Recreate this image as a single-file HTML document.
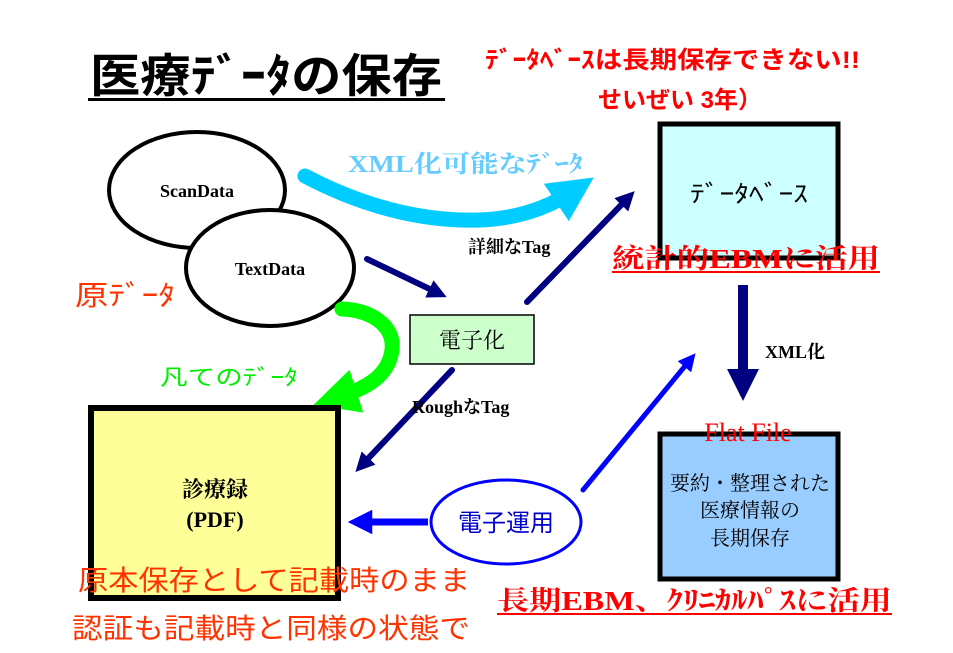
<!DOCTYPE html>
<html><head><meta charset="utf-8"><style>
html,body{margin:0;padding:0;background:#fff;}
svg{display:block;font-family:"Liberation Serif","Noto Serif CJK SC","Noto Sans CJK JP",serif;}
.b{font-weight:bold;}
</style></head><body>
<svg width="953" height="653" viewBox="0 0 953 653" xmlns="http://www.w3.org/2000/svg">
<defs>
<marker id="nv" viewBox="0 0 10 10" refX="5" refY="5" markerWidth="3.2" markerHeight="3.2" orient="auto"><path d="M0,0L10,5L0,10z" fill="#000080"/></marker>
<marker id="bl" viewBox="0 0 10 10" refX="5" refY="5" markerWidth="3.5" markerHeight="3.5" orient="auto"><path d="M0,0L10,5L0,10z" fill="#0000ff"/></marker>
<marker id="cy" viewBox="0 0 10 10" refX="5" refY="5" markerWidth="3" markerHeight="3" orient="auto"><path d="M0,0L10,5L0,10z" fill="#00ccff"/></marker>
<marker id="gr" viewBox="0 0 10 10" refX="5" refY="5" markerWidth="3" markerHeight="3" orient="auto"><path d="M0,0L10,5L0,10z" fill="#00ff00"/></marker>
</defs>
<text x="90" y="92" font-size="46" class="b" font-family="Liberation Sans,Noto Sans CJK JP,sans-serif" textLength="352" lengthAdjust="spacingAndGlyphs">医療ﾃﾞｰﾀの保存</text>
<rect x="88" y="98" width="357" height="3" fill="#000"/>
<text x="485" y="68" font-size="24" class="b" fill="#ff0000" font-family="Liberation Sans,Noto Sans CJK JP,sans-serif" textLength="375" lengthAdjust="spacingAndGlyphs">ﾃﾞｰﾀﾍﾞｰｽは長期保存できない!!</text>
<text x="598" y="108" font-size="24" class="b" fill="#ff0000" font-family="Liberation Sans,Noto Sans CJK JP,sans-serif">せいぜい 3年）</text>
<ellipse cx="197" cy="190" rx="88" ry="58" fill="#fff" stroke="#000" stroke-width="4"/>
<text x="197" y="197" font-size="18" class="b" text-anchor="middle">ScanData</text>
<ellipse cx="270" cy="268" rx="84" ry="58" fill="#fff" stroke="#000" stroke-width="4"/>
<text x="270" y="275" font-size="18" class="b" text-anchor="middle">TextData</text>
<text x="75" y="305" font-size="28" fill="#ff3300" font-family="Liberation Sans,Noto Sans CJK JP,sans-serif" textLength="100" lengthAdjust="spacingAndGlyphs">原ﾃﾞｰﾀ</text>
<text x="160" y="385" font-size="22" fill="#00ee00" font-family="Liberation Sans,Noto Sans CJK JP,sans-serif" textLength="138" lengthAdjust="spacingAndGlyphs">凡てのﾃﾞｰﾀ</text>
<path d="M305,176 C360,205 420,222 480,220 C530,218 560,200 575,190" fill="none" stroke="#00ccff" stroke-width="15" stroke-linecap="round" marker-end="url(#cy)"/>
<text x="348" y="172" font-size="24" class="b" fill="#66ccff" textLength="235" lengthAdjust="spacingAndGlyphs">XML化可能なﾃﾞｰﾀ</text>
<line x1="367" y1="259" x2="438" y2="293" stroke="#000080" stroke-width="6" stroke-linecap="round" marker-end="url(#nv)"/>
<line x1="527" y1="302" x2="628" y2="198" stroke="#000080" stroke-width="6" stroke-linecap="round" marker-end="url(#nv)"/>
<text x="468" y="253" font-size="18" class="b">詳細なTag</text>
<rect x="410" y="315" width="124" height="49" fill="#ccffcc" stroke="#000" stroke-width="1.5"/>
<text x="472" y="348" font-size="22" text-anchor="middle">電子化</text>
<line x1="452" y1="370" x2="362" y2="465" stroke="#000080" stroke-width="6" stroke-linecap="round" marker-end="url(#nv)"/>
<text x="412" y="413" font-size="18" class="b">RoughなTag</text>
<path d="M342,309 C370,310 395,325 392,350 C388,380 360,390 335,398" fill="none" stroke="#00ff00" stroke-width="15" stroke-linecap="round" marker-end="url(#gr)"/>
<rect x="91" y="408" width="247" height="190" fill="#ffff99" stroke="#000" stroke-width="6"/>
<text x="215" y="497" font-size="22" class="b" text-anchor="middle">診療録</text>
<text x="215" y="527" font-size="22" class="b" text-anchor="middle">(PDF)</text>
<text x="78" y="590" font-size="28" fill="#ff3300" font-family="Liberation Sans,Noto Sans CJK JP,sans-serif" textLength="392" lengthAdjust="spacingAndGlyphs">原本保存として記載時のまま</text>
<text x="72" y="638" font-size="28" fill="#ff3300" font-family="Liberation Sans,Noto Sans CJK JP,sans-serif" textLength="398" lengthAdjust="spacingAndGlyphs">認証も記載時と同様の状態で</text>
<ellipse cx="506" cy="522" rx="75" ry="42" fill="#fff" stroke="#0000ff" stroke-width="3"/>
<text x="506" y="531" font-size="24" fill="#0000cc" text-anchor="middle" font-family="Liberation Sans,Noto Sans CJK JP,sans-serif">電子運用</text>
<line x1="428" y1="522" x2="360" y2="522" stroke="#0000ff" stroke-width="7" marker-end="url(#bl)"/>
<line x1="583" y1="490" x2="690" y2="360" stroke="#0000ff" stroke-width="5" stroke-linecap="round" marker-end="url(#bl)"/>
<rect x="660" y="124" width="178" height="134" fill="#ccffff" stroke="#000" stroke-width="5"/>
<text x="690" y="202" font-size="24" font-family="Liberation Sans,Noto Sans CJK JP,sans-serif" textLength="118" lengthAdjust="spacingAndGlyphs">ﾃﾞｰﾀﾍﾞｰｽ</text>
<text x="612" y="268" font-size="27" class="b" fill="#ff0000" textLength="268" lengthAdjust="spacingAndGlyphs">統計的EBMに活用</text>
<rect x="612" y="271" width="268" height="2" fill="#ff0000"/>
<line x1="743" y1="285" x2="743" y2="385" stroke="#000080" stroke-width="10" marker-end="url(#nv)"/>
<text x="765" y="358" font-size="18" class="b">XML化</text>
<rect x="660" y="434" width="178" height="145" fill="#99ccff" stroke="#000" stroke-width="5"/>
<text x="748" y="441" font-size="26" fill="#ff0000" text-anchor="middle">Flat File</text>
<text x="750" y="490" font-size="20" text-anchor="middle">要約・整理された</text>
<text x="750" y="517" font-size="20" text-anchor="middle">医療情報の</text>
<text x="750" y="545" font-size="20" text-anchor="middle">長期保存</text>
<text x="497" y="610" font-size="27" class="b" fill="#ff0000" textLength="395" lengthAdjust="spacingAndGlyphs">長期EBM、ｸﾘﾆｶﾙﾊﾟｽに活用</text>
<rect x="497" y="613" width="395" height="2" fill="#ff0000"/>
</svg>
</body></html>
